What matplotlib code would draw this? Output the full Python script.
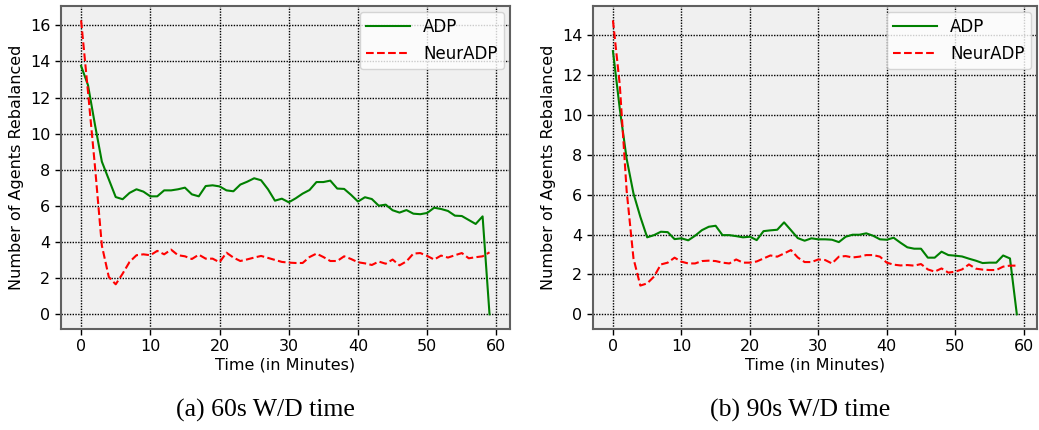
import matplotlib
matplotlib.use('Agg')
import matplotlib.pyplot as plt
import numpy as np

plt.rcParams['font.family'] = 'DejaVu Sans'

minutes = np.arange(60)

# (a) 60s W/D time
adp_60 = [13.75, 12.68, 10.5, 8.45, 7.47, 6.49, 6.37, 6.72, 6.92, 6.79,
          6.53, 6.53, 6.86, 6.86, 6.92, 7.01, 6.64, 6.53, 7.10, 7.14,
          7.08, 6.86, 6.81, 7.18, 7.34, 7.53, 7.42, 6.92, 6.29, 6.40,
          6.20, 6.42, 6.68, 6.88, 7.32, 7.32, 7.40, 6.96, 6.94, 6.61,
          6.24, 6.48, 6.38, 6.01, 6.07, 5.76, 5.63, 5.77, 5.57, 5.54,
          5.61, 5.90, 5.83, 5.72, 5.46, 5.44, 5.22, 5.00, 5.42, 0.0]
neur_60 = [16.27, 12.3, 8.2, 3.8, 2.07, 1.66, 2.25, 2.90, 3.27, 3.32,
           3.27, 3.51, 3.32, 3.58, 3.27, 3.21, 3.06, 3.30, 3.08, 3.08,
           2.88, 3.41, 3.14, 2.95, 3.04, 3.14, 3.23, 3.12, 3.01, 2.90,
           2.86, 2.84, 2.84, 3.17, 3.36, 3.17, 2.95, 2.95, 3.21, 3.06,
           2.88, 2.82, 2.73, 2.92, 2.80, 3.03, 2.71, 2.93, 3.36, 3.39,
           3.23, 3.03, 3.25, 3.14, 3.27, 3.39, 3.10, 3.16, 3.21, 3.43]

# (b) 90s W/D time
adp_90 = [13.2, 10.3, 7.8, 6.06, 4.89, 3.86, 3.97, 4.14, 4.12, 3.77,
          3.81, 3.71, 3.94, 4.22, 4.39, 4.44, 3.97, 3.97, 3.92, 3.86,
          3.89, 3.72, 4.17, 4.21, 4.24, 4.61, 4.22, 3.82, 3.69, 3.81,
          3.76, 3.76, 3.74, 3.62, 3.89, 3.99, 3.99, 4.06, 3.94, 3.76,
          3.74, 3.84, 3.59, 3.36, 3.29, 3.29, 2.84, 2.84, 3.14, 2.97,
          2.94, 2.90, 2.79, 2.69, 2.57, 2.59, 2.59, 2.95, 2.80, 0.0]
neur_90 = [14.74, 11.5, 6.2, 2.8, 1.44, 1.55, 1.89, 2.50, 2.59, 2.84,
           2.64, 2.55, 2.55, 2.67, 2.69, 2.67, 2.59, 2.55, 2.75, 2.59,
           2.59, 2.65, 2.80, 2.95, 2.89, 3.05, 3.22, 2.85, 2.62, 2.62,
           2.75, 2.72, 2.55, 2.89, 2.92, 2.85, 2.89, 2.97, 2.97, 2.89,
           2.59, 2.49, 2.45, 2.47, 2.44, 2.52, 2.25, 2.14, 2.30, 2.09,
           2.14, 2.25, 2.50, 2.29, 2.24, 2.22, 2.22, 2.39, 2.44, 2.44]

captions = ['(a) 60s W/D time', '(b) 90s W/D time']

fig = plt.figure(figsize=(10.39, 4.30), dpi=100)
ax1 = fig.add_axes([0.0584, 0.2349, 0.4324, 0.7519])
ax2 = fig.add_axes([0.5705, 0.2349, 0.4276, 0.7519])

for ax, adp, neur in [(ax1, adp_60, neur_60), (ax2, adp_90, neur_90)]:
    ax.set_facecolor('#f0f0f0')
    ax.plot(minutes, adp, color='green', linewidth=1.5, label='ADP')
    ax.plot(minutes, neur, color='red', linestyle='--', linewidth=1.5, label='NeurADP')
    ax.grid(True, color='black', linestyle=(0, (1, 1)), linewidth=1.0)
    ax.set_axisbelow(True)
    ax.set_xticks(np.arange(0, 61, 10))
    ax.tick_params(labelsize=11.5, length=4, width=1, color='black')
    for s in ax.spines.values():
        s.set_color('#606060')
        s.set_linewidth(1.5)
    ax.set_xlabel('Time (in Minutes)', fontsize=11.5, labelpad=2)
    ax.set_ylabel('Number of Agents Rebalanced', fontsize=11.5)
    ax.legend(loc='upper right', fontsize=12, framealpha=0.8,
              handlelength=2.6, borderaxespad=0.35)

ax1.set_yticks(np.arange(0, 17, 2))
ax2.set_yticks(np.arange(0, 15, 2))

fig.text(265 / 1039, 0.045, captions[0], ha='center', va='center',
         family='Liberation Serif', fontsize=18.5)
fig.text(800 / 1039, 0.045, captions[1], ha='center', va='center',
         family='Liberation Serif', fontsize=18.5)

fig.savefig('out.png', dpi=100)
